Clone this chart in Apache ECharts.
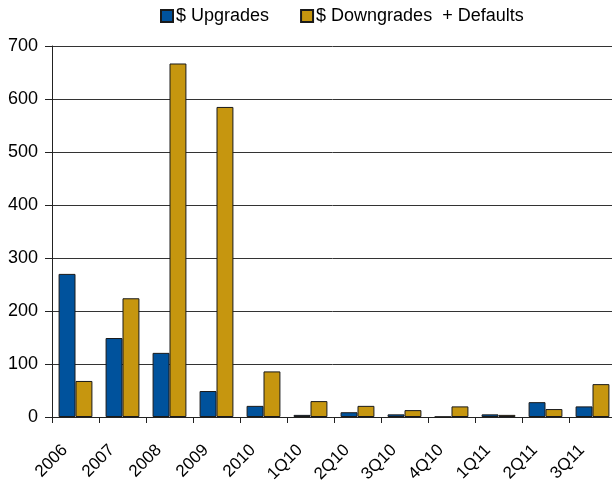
<!DOCTYPE html>
<html>
<head>
<meta charset="utf-8">
<script src="https://cdn.jsdelivr.net/npm/echarts@6/dist/echarts.min.js"></script>
<style>
  html, body { margin: 0; padding: 0; background: #fff; }
  #chart { width: 612px; height: 481px; }
</style>
</head>
<body>
<div id="chart"></div>
<script>
  // categories & values
  const categories = ['2006', '2007', '2008', '2009', '2010', '1Q10', '2Q10', '3Q10', '4Q10', '1Q11', '2Q11', '3Q11'];
  const upgrades = [270, 149, 121, 49, 21, 4, 9, 5, 0.5, 5, 28, 20];
  const downgrades = [68, 224, 667, 585, 86, 30, 21, 13, 20, 4, 15, 62];
  const yTicks = [0, 100, 200, 300, 400, 500, 600, 700];

  const chart = echarts.init(document.getElementById('chart'));

  const barStyle = (color) => ({
    color: color,
    borderColor: '#1a1a1a',
    borderWidth: 1
  });

  chart.setOption({
    animation: false,
    textStyle: { fontFamily: 'Liberation Sans, Arial, sans-serif' },
    legend: {
      top: 2,
      left: 155,
      itemWidth: 12,
      itemHeight: 12,
      itemGap: 31,
      icon: 'rect',
      textStyle: { fontSize: 18, color: '#000', padding: [0, 0, 0, -2] },
      data: ['$ Upgrades', '$ Downgrades  + Defaults']
    },
    grid: { // 边框距离
      left: 52,
      right: -4,
      top: 46,
      bottom: 64,
      containLabel: false,
      outerBoundsMode: 'none'
    },
    xAxis: {
      type: 'category',
      data: categories,
      axisLine: { lineStyle: { color: '#222', width: 1 } },
      axisTick: { show: true, length: 6, alignWithLabel: false, lineStyle: { color: '#222' } },
      axisLabel: { rotate: 45, fontSize: 17, color: '#000', margin: 20, padding: [0, 15, 0, 0], interval: 0 }
    },
    yAxis: {
      type: 'value',
      min: yTicks[0],
      max: yTicks[yTicks.length - 1],
      interval: 100,
      axisLine: { show: true, lineStyle: { color: '#222', width: 1 } },
      axisTick: { show: true, length: 7, lineStyle: { color: '#222' } },
      axisLabel: { fontSize: 18, color: '#000', margin: 14 },
      splitLine: { show: true, lineStyle: { color: '#333', width: 1 } }
    },
    series: [
      {
        name: '$ Upgrades',
        type: 'bar',
        data: upgrades,
        barGap: '0%',
        barCategoryGap: '28%',
        itemStyle: barStyle('#00529C')
      },
      {
        name: '$ Downgrades  + Defaults',
        type: 'bar',
        data: downgrades,
        barGap: '0%',
        barCategoryGap: '28%',
        itemStyle: barStyle('#C6960F')
      }
    ]
  });
</script>
</body>
</html>
